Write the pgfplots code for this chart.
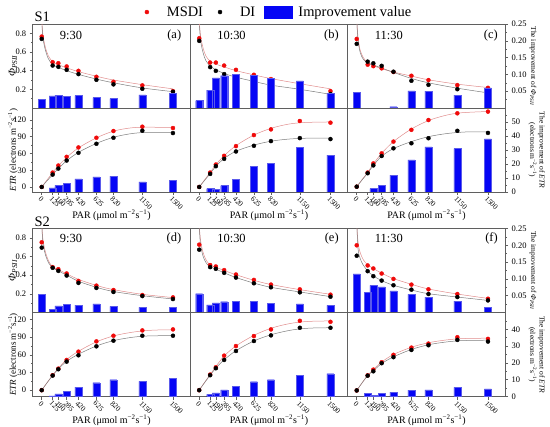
\documentclass[border=0pt]{standalone}
\usepackage{fontspec}
\setmainfont{Liberation Serif}
\usepackage{pgfplots}
\pgfplotsset{compat=1.18}
\definecolor{framec}{RGB}{95,95,95}
\definecolor{redpt}{RGB}{240,10,10}
\definecolor{redcv}{RGB}{225,140,140}
\definecolor{blkcv}{RGB}{125,125,125}
\definecolor{barblue}{RGB}{5,5,245}
\newcommand{\fs}[1]{\fontsize{#1}{#1}\selectfont}
\tikzset{tlab/.style={font=\fs{12.5}}}
\pgfplotsset{
  base/.style={scale only axis, width=157.5bp, height=84bp, xmin=-103, xmax=1697,
    anchor=south west, axis line style={framec, line width=0.9bp},
    tick style={framec, line width=0.5bp}, tick align=outside,
    major tick length=3bp, minor tick length=1.6bp,
    ticklabel style={font=\fs{8.5}}, /pgf/number format/assume math mode=true,
    xtick=\empty, ytick=\empty, clip mode=individual},
  phiL/.style={ymin=0, ymax=0.9},
  phiR/.style={ymin=0, ymax=0.25},
  etrLa/.style={ymin=-9, ymax=141.5},
  etrRa/.style={ymin=0, ymax=60},
  etrLb/.style={ymin=-10.7, ymax=131.8},
  etrRb/.style={ymin=0, ymax=50},
  leftphi/.style={ytick={0.2,0.4,0.6,0.8}, minor ytick={0.1,0.3,0.5,0.7}, ytick pos=left,
    ylabel={\textit{Φ}\textsubscript{\textit{PSII}}},
    ylabel style={at={(axis description cs:-0.125,0.5)}, anchor=center, font=\fs{10.5}}},
  leftetr/.style={ytick={0,30,60,90,120}, minor ytick={15,45,75,105}, ytick pos=left,
    ylabel={\textit{ETR} (electrons m\textsuperscript{−2}s\textsuperscript{−1})},
    ylabel style={at={(axis description cs:-0.125,0.5)}, anchor=center, font=\fs{9}}},
  rightphi/.style={ytick={0.05,0.1,0.15,0.2,0.25}, minor ytick={0.025,0.075,0.125,0.175,0.225},
    ytick pos=right, yticklabel pos=right,
    yticklabel style={/pgf/number format/.cd, fixed, fixed zerofill, precision=2}},
  rightetra/.style={ytick={0,10,20,30,40,50}, minor ytick={5,15,25,35,45,55},
    ytick pos=right, yticklabel pos=right},
  rightetrb/.style={ytick={0,10,20,30,40}, minor ytick={5,15,25,35,45},
    ytick pos=right, yticklabel pos=right},
  xetr/.style={xtick={0,125,190,285,420,625,820,1150,1500},
    xticklabels={0,125,190,285,420,625,820,1150,1500}, xtick pos=lower,
    xticklabel style={font=\fs{7.5}, rotate=-45, anchor=north west, inner sep=0.5bp},
    xlabel={PAR (μmol m\textsuperscript{−2}s\textsuperscript{−1})},
    xlabel style={at={(axis description cs:0.5,0)}, anchor=center, yshift=-23.5bp, font=\fs{10}}},
  redc/.style={redcv, line width=0.5bp, smooth, tension=0.55, forget plot},
  blkc/.style={blkcv, line width=0.5bp, smooth, tension=0.55, forget plot},
  redp/.style={only marks, mark=*, mark size=2bp, color=redpt},
  blkp/.style={only marks, mark=*, mark size=2bp, color=black},
  bars/.style={ybar, bar width=80, fill=barblue, draw={rgb,255:red,90;green,90;blue,235}, line width=0.3bp},
  ovl/.style={base, hide axis},
}
\begin{document}
\begin{tikzpicture}
\useasboundingbox (0,0) rectangle (550bp,427bp);
% ================= S1 PHI =================
\begin{axis}[base, phiL, leftphi, at={(32.7bp,319bp)},
  legend style={at={(axis description cs:1.545,1.142)}, anchor=center, draw=none, fill=none,
    legend columns=3, font=\fs{14.5}, inner sep=0pt, /tikz/every even column/.append style={column sep=7bp}},
  legend image code/.code={\path[draw=none, fill=none] (0bp,-5bp) rectangle (26bp,5bp); \draw[mark repeat=2,mark phase=2,#1] plot coordinates {(0bp,0bp)(8bp,0bp)(22bp,0bp)};}]
\addplot[redc] coordinates {(3,0.9)(12,0.80)(25,0.72)(45,0.64)(75,0.56)(125,0.495)(190,0.465)(285,0.43)(420,0.39)(625,0.34)(820,0.30)(1150,0.25)(1500,0.205)};
\addplot[blkc] coordinates {(3,0.88)(12,0.77)(25,0.69)(45,0.61)(75,0.53)(125,0.465)(190,0.435)(285,0.40)(420,0.36)(625,0.31)(820,0.27)(1150,0.215)(1500,0.175)};
\addplot[redp] coordinates {(0,0.765)(125,0.491)(190,0.480)(285,0.445)(420,0.398)(625,0.334)(820,0.281)(1150,0.242)(1500,0.181)};
\addplot[blkp] coordinates {(0,0.740)(125,0.455)(190,0.441)(285,0.409)(420,0.363)(625,0.302)(820,0.253)(1150,0.206)(1500,0.174)};
\addlegendimage{legend image code/.code={\path[draw=none, fill=none] (0bp,-6bp) rectangle (32bp,6bp); \fill[barblue] (0bp,-6bp) rectangle (28bp,6bp);}}
\legend{MSDI,DI,Improvement value}
\node[tlab, anchor=west] at (axis description cs:0.15,0.86) {9:30};
\node[tlab, anchor=east] at (axis description cs:0.965,0.86) {(a)};
\end{axis}
\begin{axis}[ovl, phiR, at={(32.7bp,319bp)}]
\addplot[bars] coordinates {(0,0.025)(125,0.036)(190,0.037)(285,0.035)(420,0.037)(625,0.031)(820,0.028)(1150,0.039)(1500,0.043)};
\end{axis}
\begin{axis}[base, phiL, at={(190.2bp,319bp)}]
\addplot[redc] coordinates {(3,0.9)(12,0.80)(25,0.72)(45,0.64)(75,0.56)(125,0.50)(190,0.47)(285,0.44)(420,0.40)(625,0.355)(820,0.315)(1150,0.26)(1500,0.205)};
\addplot[blkc] coordinates {(3,0.88)(12,0.76)(25,0.67)(45,0.59)(75,0.51)(125,0.45)(190,0.41)(285,0.37)(420,0.33)(625,0.285)(820,0.245)(1150,0.20)(1500,0.146)};
\addplot[redp] coordinates {(0,0.747)(125,0.487)(190,0.487)(285,0.455)(420,0.409)(625,0.356)(820,0.31)(1150,0.25)(1500,0.181)};
\addplot[blkp] coordinates {(0,0.719)(125,0.438)(190,0.398)(285,0.363)(420,0.33)(625,0.29)(820,0.25)(1150,0.20)(1500,0.15)};
\node[tlab, anchor=west] at (axis description cs:0.15,0.86) {10:30};
\node[tlab, anchor=east] at (axis description cs:0.965,0.86) {(b)};
\end{axis}
\begin{axis}[ovl, phiR, at={(190.2bp,319bp)}]
\addplot[bars] coordinates {(0,0.022)(125,0.053)(190,0.090)(285,0.096)(420,0.101)(625,0.097)(820,0.088)(1150,0.081)(1500,0.043)};
\end{axis}
\begin{axis}[base, phiR, rightphi, at={(347.7bp,319bp)}]
\addplot[redc] coordinates {(3,0.25)(10,0.225)(20,0.20)(40,0.172)(75,0.15)(125,0.135)(190,0.126)(285,0.117)(420,0.107)(625,0.095)(820,0.084)(1150,0.071)(1500,0.061)};
\addplot[blkc] coordinates {(3,0.25)(8,0.225)(18,0.195)(40,0.165)(75,0.145)(125,0.135)(190,0.128)(285,0.119)(420,0.106)(625,0.088)(820,0.075)(1150,0.059)(1500,0.045)};
\addplot[redp] coordinates {(0,0.2055)(125,0.129)(190,0.1245)(285,0.118)(420,0.107)(625,0.096)(820,0.083)(1150,0.068)(1500,0.060)};
\addplot[blkp] coordinates {(0,0.191)(125,0.138)(190,0.133)(285,0.1255)(420,0.108)(625,0.081)(820,0.069)(1150,0.056)(1500,0.045)};
\addplot[bars] coordinates {(0,0.046)(420,0.004)(625,0.051)(820,0.050)(1150,0.038)(1500,0.060)};
\node[tlab, anchor=west] at (axis description cs:0.15,0.86) {11:30};
\node[tlab, anchor=east] at (axis description cs:0.975,0.86) {(c)};
\end{axis}
% ================= S1 ETR =================
\begin{axis}[base, etrLa, leftetr, xetr, at={(32.7bp,235bp)}]
\addplot[redc] coordinates {(0,0)(60,12.5)(125,25.5)(190,38)(285,53)(420,70)(625,88)(820,100)(1000,105.5)(1150,107)(1300,107)(1500,107)};
\addplot[blkc] coordinates {(0,0)(60,11)(125,22)(190,33)(285,47)(420,62)(625,78)(820,89)(1000,95)(1150,97.5)(1300,98)(1500,98)};
\addplot[redp] coordinates {(0,0)(125,25.8)(190,38.4)(285,54.0)(420,70.8)(625,88.2)(820,100.2)(1150,108.0)(1500,105.6)};
\addplot[blkp] coordinates {(0,0)(125,22.2)(190,33.0)(285,47.4)(420,61.2)(625,77.4)(820,88.2)(1150,100.8)(1500,96.6)};
\end{axis}
\begin{axis}[ovl, etrRa, at={(32.7bp,235bp)}]
\addplot[bars] coordinates {(125,2.9)(190,4.8)(285,6.2)(420,9.4)(625,10.8)(820,11.3)(1150,7.2)(1500,8.2)};
\end{axis}
\begin{axis}[base, etrLa, xetr, at={(190.2bp,235bp)}]
\addplot[redc] coordinates {(0,0)(60,12.5)(125,26)(190,40)(285,56)(420,74)(625,93)(820,105)(1000,112)(1150,115)(1300,116)(1500,116.5)};
\addplot[blkc] coordinates {(0,0)(60,11.5)(125,24)(190,37)(285,51)(420,64)(625,75)(820,82)(1000,85.5)(1150,87)(1300,87.5)(1500,87.5)};
\addplot[redp] coordinates {(0,0)(125,25.8)(190,40.2)(285,55.8)(420,73.2)(625,93.0)(820,103.2)(1150,118.2)(1500,115.2)};
\addplot[blkp] coordinates {(0,0)(125,23.4)(190,37.2)(285,50.4)(420,63.6)(625,73.8)(820,82.2)(1150,87.6)(1500,85.8)};
\end{axis}
\begin{axis}[ovl, etrRa, at={(190.2bp,235bp)}]
\addplot[bars] coordinates {(125,2.4)(190,1.9)(285,4.6)(420,8.9)(625,18.2)(820,20.6)(1150,31.7)(1500,26.4)};
\end{axis}
\begin{axis}[base, etrRa, rightetra, xetr, at={(347.7bp,235bp)}]
\addplot[redc] coordinates {(0,3.8)(60,8.8)(125,14)(190,20)(285,27.6)(420,36)(625,45)(820,51)(1000,54.5)(1150,56.3)(1300,57)(1500,57.5)};
\addplot[blkc] coordinates {(0,3.8)(60,8.5)(125,13.5)(190,19)(285,25.5)(420,31)(625,36)(820,39.5)(1000,41.5)(1150,42.5)(1300,43)(1500,43)};
\addplot[redp] coordinates {(0,3.8)(125,13.9)(190,20.4)(285,27.6)(420,36.0)(625,44.4)(820,51.4)(1150,56.2)(1500,57.4)};
\addplot[blkp] coordinates {(0,3.8)(125,13.4)(190,19.0)(285,25.7)(420,31.2)(625,34.8)(820,38.4)(1150,43.7)(1500,42.2)};
\addplot[bars] coordinates {(190,2.4)(285,4.6)(420,12.0)(625,23.0)(820,32.2)(1150,31.0)(1500,37.9)};
\end{axis}
% ================= S2 PHI =================
\begin{axis}[base, phiL, leftphi, at={(32.7bp,114.5bp)}]
\addplot[redc] coordinates {(3,0.9)(12,0.80)(25,0.72)(45,0.64)(80,0.55)(125,0.49)(190,0.46)(285,0.415)(420,0.355)(625,0.29)(820,0.245)(1150,0.195)(1500,0.16)};
\addplot[blkc] coordinates {(3,0.9)(10,0.78)(22,0.70)(45,0.61)(80,0.53)(125,0.48)(190,0.445)(285,0.40)(420,0.335)(625,0.27)(820,0.225)(1150,0.18)(1500,0.145)};
\addplot[redp] coordinates {(0,0.752)(125,0.486)(190,0.464)(285,0.418)(420,0.338)(625,0.288)(820,0.241)(1150,0.187)(1500,0.162)};
\addplot[blkp] coordinates {(0,0.695)(125,0.479)(190,0.446)(285,0.396)(420,0.317)(625,0.263)(820,0.22)(1150,0.176)(1500,0.144)};
\node[tlab, anchor=west] at (axis description cs:0.15,0.88) {9:30};
\node[tlab, anchor=east] at (axis description cs:0.965,0.88) {(d)};
\end{axis}
\begin{axis}[ovl, phiR, at={(32.7bp,114.5bp)}]
\addplot[bars] coordinates {(0,0.055)(125,0.009)(190,0.020)(285,0.024)(420,0.022)(625,0.026)(820,0.018)(1150,0.015)(1500,0.016)};
\end{axis}
\begin{axis}[base, phiL, at={(190.2bp,114.5bp)}]
\addplot[redc] coordinates {(3,0.9)(12,0.80)(25,0.72)(45,0.64)(80,0.56)(125,0.51)(190,0.485)(285,0.45)(420,0.405)(625,0.345)(820,0.30)(1150,0.245)(1500,0.195)};
\addplot[blkc] coordinates {(3,0.9)(10,0.77)(22,0.69)(45,0.60)(80,0.53)(125,0.49)(190,0.465)(285,0.425)(420,0.375)(625,0.315)(820,0.27)(1150,0.22)(1500,0.17)};
\addplot[redp] coordinates {(0,0.727)(125,0.508)(190,0.493)(285,0.454)(420,0.407)(625,0.349)(820,0.299)(1150,0.248)(1500,0.191)};
\addplot[blkp] coordinates {(0,0.673)(125,0.486)(190,0.468)(285,0.425)(420,0.374)(625,0.313)(820,0.27)(1150,0.216)(1500,0.169)};
\node[tlab, anchor=west] at (axis description cs:0.15,0.88) {10:30};
\node[tlab, anchor=east] at (axis description cs:0.965,0.88) {(e)};
\end{axis}
\begin{axis}[ovl, phiR, at={(190.2bp,114.5bp)}]
\addplot[bars] coordinates {(0,0.056)(125,0.023)(190,0.029)(285,0.032)(420,0.033)(625,0.033)(820,0.028)(1150,0.026)(1500,0.021)};
\end{axis}
\begin{axis}[base, phiR, rightphi, at={(347.7bp,114.5bp)}]
\addplot[redc] coordinates {(3,0.25)(10,0.225)(20,0.20)(40,0.178)(75,0.157)(125,0.142)(190,0.131)(285,0.117)(420,0.101)(625,0.084)(820,0.070)(1150,0.055)(1500,0.042)};
\addplot[blkc] coordinates {(3,0.25)(8,0.22)(15,0.19)(30,0.168)(70,0.143)(125,0.124)(190,0.109)(285,0.095)(420,0.081)(625,0.067)(820,0.056)(1150,0.046)(1500,0.036)};
\addplot[redp] coordinates {(0,0.200)(125,0.140)(190,0.131)(285,0.116)(420,0.100)(625,0.083)(820,0.069)(1150,0.055)(1500,0.041)};
\addplot[blkp] coordinates {(0,0.169)(125,0.123)(190,0.108)(285,0.095)(420,0.081)(625,0.068)(820,0.055)(1150,0.046)(1500,0.036)};
\addplot[bars] coordinates {(0,0.115)(125,0.060)(190,0.081)(285,0.076)(420,0.064)(625,0.054)(820,0.046)(1150,0.034)(1500,0.016)};
\node[tlab, anchor=west] at (axis description cs:0.15,0.88) {11:30};
\node[tlab, anchor=east] at (axis description cs:0.975,0.88) {(f)};
\end{axis}
% ================= S2 ETR =================
\begin{axis}[base, etrLb, leftetr, xetr, at={(32.7bp,30.5bp)}]
\addplot[redc] coordinates {(0,0)(60,12.5)(125,25.5)(190,37)(285,52)(420,66)(625,82)(820,92)(1000,97.5)(1150,100.5)(1300,102)(1500,102.5)};
\addplot[blkc] coordinates {(0,0)(60,12.3)(125,25)(190,36)(285,49)(420,61)(625,75)(820,84)(1000,89)(1150,91.5)(1300,92.3)(1500,92.5)};
\addplot[redp] coordinates {(0,0)(125,25.4)(190,36.6)(285,51.3)(420,65.4)(625,82.8)(820,92.4)(1150,101.4)(1500,103.1)};
\addplot[blkp] coordinates {(0,0)(125,24.8)(190,35.5)(285,48.5)(420,59.2)(625,74.4)(820,84.0)(1150,92.4)(1500,92.4)};
\end{axis}
\begin{axis}[ovl, etrRb, at={(32.7bp,30.5bp)}]
\addplot[bars] coordinates {(125,0.4)(190,1.6)(285,3.2)(420,5.6)(625,8.2)(820,10.0)(1150,9.0)(1500,10.8)};
\end{axis}
\begin{axis}[base, etrLb, xetr, at={(190.2bp,30.5bp)}]
\addplot[redc] coordinates {(0,0)(60,13)(125,26.5)(190,40)(285,58)(420,75)(625,93)(820,105)(1000,112)(1150,115.5)(1300,117)(1500,117.5)};
\addplot[blkc] coordinates {(0,0)(60,12.5)(125,25.5)(190,37.5)(285,51.5)(420,67)(625,83.5)(820,94)(1000,100.5)(1150,104)(1300,105.5)(1500,106)};
\addplot[redp] coordinates {(0,0)(125,26.5)(190,38.9)(285,58.6)(420,74.9)(625,91.8)(820,103.1)(1150,117.7)(1500,116.0)};
\addplot[blkp] coordinates {(0,0)(125,25.4)(190,37.2)(285,51.3)(420,66.5)(625,83.4)(820,93.0)(1150,105.9)(1500,105.9)};
\end{axis}
\begin{axis}[ovl, etrRb, at={(190.2bp,30.5bp)}]
\addplot[bars] coordinates {(125,1.2)(190,2.2)(285,4.0)(420,6.0)(625,8.8)(820,10.0)(1150,12.6)(1500,13.6)};
\end{axis}
\begin{axis}[base, etrRb, rightetrb, xetr, at={(347.7bp,30.5bp)}]
\addplot[redc] coordinates {(0,3.6)(60,8)(125,12.6)(190,16)(285,20.5)(420,25)(625,29.3)(820,32)(1000,33.5)(1150,34.3)(1300,34.6)(1500,34.7)};
\addplot[blkc] coordinates {(0,3.6)(60,8)(125,12.4)(190,15.3)(285,19.6)(420,23.6)(625,28)(820,30.8)(1000,32.3)(1150,33.1)(1300,33.4)(1500,33.5)};
\addplot[redp] coordinates {(0,3.6)(125,12.6)(190,16.0)(285,20.4)(420,24.8)(625,29.1)(820,31.5)(1150,35.3)(1500,34.3)};
\addplot[blkp] coordinates {(0,3.6)(125,12.4)(190,15.0)(285,19.8)(420,23.4)(625,27.7)(820,30.5)(1150,33.7)(1500,32.7)};
\addplot[bars] coordinates {(125,2.0)(190,0.6)(285,1.8)(420,2.6)(625,3.8)(820,4.0)(1150,5.4)(1500,4.6)};
\end{axis}
% ================= outer labels =================
\node[anchor=west, font=\fs{14.5}] at (31bp,410.3bp) {S1};
\node[anchor=west, font=\fs{14.5}] at (31bp,205.3bp) {S2};
\node[rotate=-90, font=\fs{7.5}] at (533bp,361bp) {The improvement of \textit{Φ}\textsubscript{\textit{PSII}}};
\node[rotate=-90, font=\fs{7.5}] at (533bp,156.3bp) {The improvement of \textit{Φ}\textsubscript{\textit{PSII}}};
\node[rotate=-90, font=\fontsize{7.5}{9.5}\selectfont, align=center] at (536.7bp,277bp) {The improvement of \textit{ETR}\\(electrons m\textsuperscript{−2}s\textsuperscript{−1})};
\node[rotate=-90, font=\fontsize{7.5}{9.5}\selectfont, align=center] at (536.7bp,72.5bp) {The improvement of \textit{ETR}\\(electrons m\textsuperscript{−2}s\textsuperscript{−1})};
\end{tikzpicture}
\end{document}
